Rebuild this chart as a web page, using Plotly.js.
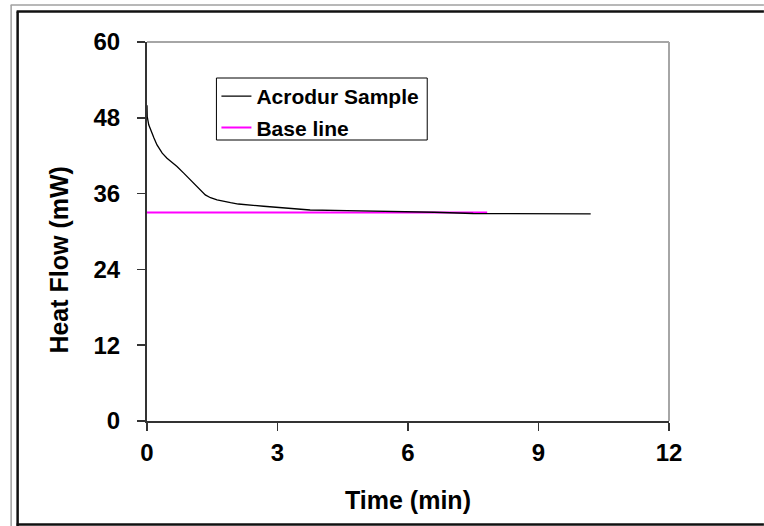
<!DOCTYPE html>
<html>
<head>
<meta charset="utf-8">
<script src="https://cdn.plot.ly/plotly-3.0.1.min.js"></script>
<style>
html,body{margin:0;padding:0;background:#fff;}
#chart{width:764px;height:526px;}
</style>
</head>
<body>
<div id="chart"></div>
<script>
// Acrodur sample heat flow (mW) vs time (min)
const sampleTime = [0, 0.005, 0.04, 0.08, 0.16, 0.23, 0.35, 0.46, 0.69, 0.85, 1.04, 1.23, 1.34, 1.46, 1.61, 1.92, 2.1, 2.68, 3.15, 3.75, 4.6, 5.8, 6.6, 7.5, 8.5, 9.4, 10.2];
const sampleHeat = [50.0, 48.2, 46.9, 46.1, 44.8, 43.7, 42.4, 41.6, 40.3, 39.2, 37.9, 36.6, 35.8, 35.35, 35.0, 34.56, 34.35, 34.0, 33.7, 33.4, 33.3, 33.2, 33.05, 32.85, 32.8, 32.8, 32.8];
// Base line
const baseTime = [0, 7.82];
const baseHeat = [33.0, 33.0];
// Axis ticks
const xTicks = [0, 3, 6, 9, 12];
const yTicks = [0, 12, 24, 36, 48, 60];
const seriesNames = ["Acrodur Sample", "Base line"];

const W = 764, H = 526;
const ML = 146.5, MR = 95, MT = 42, MB = 105;
const PW = W - ML - MR, PH = H - MT - MB;
const px = v => (v - ML) / PW;
const py = v => (H - MB - v) / PH;

const fontFam = "'Liberation Sans', Arial, sans-serif";

const traces = [
  {x: baseTime, y: baseHeat, type: 'scatter', mode: 'lines', name: seriesNames[1],
   line: {color: '#ff00ff', width: 2}, legendrank: 2, legendgroup: 'b'},
  {x: sampleTime, y: sampleHeat, type: 'scatter', mode: 'lines', name: seriesNames[0],
   line: {color: '#000000', width: 1.3}, legendrank: 1, legendgroup: 'a'}
];

function line(x0, y0, x1, y1, color, width) {
  return {type: 'line', xref: 'paper', yref: 'paper', x0: px(x0), y0: py(y0), x1: px(x1), y1: py(y1),
          line: {color: color, width: width}, layer: 'above'};
}

const shapes = [
  // outer frames
  line(10.5, 5, 10.5, 526, '#a0a0a0', 1.5),
  line(10, 5, 764, 5, '#a0a0a0', 1.5),
  line(17, 11.5, 17, 526, '#111111', 2.5),
  line(16, 11.5, 764, 11.5, '#111111', 2.5),
  line(16, 524.5, 764, 524.5, '#111111', 2.5),
  // plot area top / right borders
  {type: 'line', xref: 'paper', yref: 'paper', x0: 0, y0: 1, x1: 1, y1: 1, line: {color: '#a6a6a6', width: 2}},
  {type: 'line', xref: 'paper', yref: 'paper', x0: 1, y0: 0, x1: 1, y1: 1, line: {color: '#a6a6a6', width: 2}},
  // legend box
  {type: 'rect', xref: 'paper', yref: 'paper', x0: px(216), y0: py(78), x1: px(427), y1: py(140),
   fillcolor: '#ffffff', line: {color: '#000000', width: 1}, layer: 'above'}
];

const layout = {
  width: W, height: H,
  margin: {l: ML, r: MR, t: MT, b: MB, pad: 0},
  paper_bgcolor: '#ffffff', plot_bgcolor: '#ffffff',
  showlegend: true,
  font: {family: fontFam, color: '#000'},
  xaxis: {
    range: [0, 12], tickvals: xTicks, ticktext: xTicks.map(String),
    showgrid: false, zeroline: false, showline: true, linecolor: '#333', linewidth: 1.5,
    ticks: 'outside', ticklen: 8, tickcolor: '#333', tickwidth: 1.5,
    tickfont: {family: fontFam, size: 24, weight: 'bold', color: '#000'},
    ticklabelstandoff: 2,
    title: {text: 'Time (min)', font: {family: fontFam, size: 25, weight: 'bold', color: '#000'}, standoff: 26}
  },
  yaxis: {
    range: [0, 60], tickvals: yTicks, ticktext: yTicks.map(String),
    showgrid: false, zeroline: false, showline: true, linecolor: '#333', linewidth: 2,
    ticks: 'outside', ticklen: 8, tickcolor: '#333', tickwidth: 1.5,
    tickfont: {family: fontFam, size: 24, weight: 'bold', color: '#000'},
    ticklabelstandoff: 12
  },
  annotations: [{
    text: 'Heat Flow (mW)', xref: 'paper', yref: 'paper', x: px(58), y: py(260),
    showarrow: false, textangle: -90, xanchor: 'center', yanchor: 'middle',
    font: {family: fontFam, size: 25, weight: 'bold', color: '#000'}
  }],
  legend: {
    x: px(216), y: py(76), xanchor: 'left', yanchor: 'top',
    bgcolor: 'rgba(0,0,0,0)', borderwidth: 0,
    font: {family: fontFam, size: 21, weight: 'bold', color: '#000'},
    traceorder: 'grouped', tracegroupgap: 1, itemwidth: 30
  },
  shapes: shapes
};

Plotly.newPlot('chart', traces, layout, {displayModeBar: false, staticPlot: true});
</script>
</body>
</html>
